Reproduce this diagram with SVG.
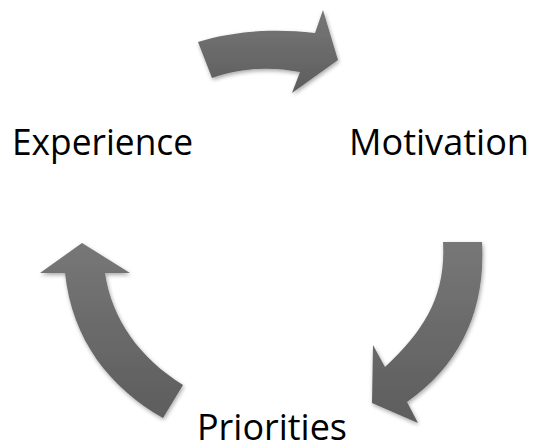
<svg xmlns="http://www.w3.org/2000/svg" width="535" height="446" viewBox="0 0 535 446">
<defs>
<linearGradient id="g" x1="0" y1="0" x2="0" y2="1">
<stop offset="0" stop-color="#777777"/>
<stop offset="1" stop-color="#5d5d5d"/>
</linearGradient>
<filter id="sh" x="-20%" y="-20%" width="140%" height="140%">
<feGaussianBlur in="SourceAlpha" stdDeviation="2"/>
<feOffset dx="1" dy="2" result="b"/>
<feComponentTransfer><feFuncA type="linear" slope="0.35"/></feComponentTransfer>
<feMerge><feMergeNode/><feMergeNode in="SourceGraphic"/></feMerge>
</filter>
</defs>
<style>
.lbl{font-family:"Open Sans","Liberation Sans",Arial,sans-serif;font-size:37px;fill:#000}
.arr{fill:url(#g);filter:url(#sh)}
</style>
<g id="experience"><text class="lbl" x="12" y="155" textLength="181" lengthAdjust="spacingAndGlyphs">Experience</text></g>
<g id="motivation"><text class="lbl" x="349" y="155" textLength="180" lengthAdjust="spacingAndGlyphs">Motivation</text></g>
<g id="priorities"><text class="lbl" x="197" y="440" textLength="150" lengthAdjust="spacingAndGlyphs">Priorities</text></g>
<g id="connectors">
<path class="arr" d="M198,42 C230,32 270,28 315,33 L323,10 L338,60 L292,93 L300,72 C270,66 240,68 212,78 Z"/>
<path class="arr" d="M443,242 L482,242 C486,310 460,365 407,402 L418,423 L372,403 L373,345 L385,367 C425,330 446,295 443,242 Z"/>
<path class="arr" d="M82,243 L130,273 L105,273 C112,320 140,358 183,385 L163,418 C110,388 72,340 65,273 L40,273 Z"/>
</g>
</svg>
